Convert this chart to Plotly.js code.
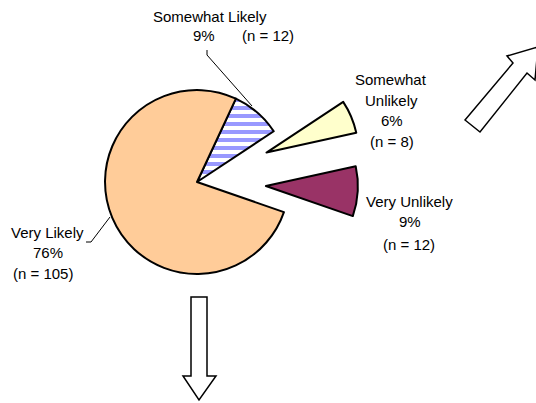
<!DOCTYPE html>
<html>
<head>
<meta charset="utf-8">
<script src="https://cdn.plot.ly/plotly-3.0.1.min.js"></script>
<style>html,body{margin:0;padding:0;background:#fff;}#chart{width:536px;height:403px;}</style>
</head>
<body>
<div id="chart"></div>
<script>
// Data
var categories = ["Somewhat Likely", "Somewhat Unlikely", "Very Unlikely", "Very Likely"];
var counts = [12, 8, 12, 105];
var percentLabels = ["9%", "6%", "9%", "76%"];
var nLabels = ["(n = 12)", "(n = 8)", "(n = 12)", "(n = 105)"];
var nameLines = [["Somewhat Likely"], ["Somewhat", "Unlikely"], ["Very Unlikely"], ["Very Likely"]];

// Styles
var sliceColors = ["#ffffff", "#ffffcc", "#993366", "#ffcc99"];
var pulls = [0, 0.82, 0.75, 0];

var font = {family: "Liberation Sans, Arial, sans-serif", size: 15, color: "#000"};

var pie = {
  type: "pie",
  values: counts,
  labels: categories,
  sort: false,
  direction: "clockwise",
  rotation: 25,
  pull: pulls,
  textinfo: "none",
  hoverinfo: "label+value+percent",
  showlegend: false,
  domain: {x: [0.0552, 0.6799], y: [0.133, 0.9638]},
  marker: {
    colors: sliceColors,
    line: {color: "#000", width: 2},
    pattern: {shape: ["-", "", "", ""], fgcolor: "#9999ff", bgcolor: "#ffffff", size: 8, solidity: 0.5}
  }
};

// Label placement (pixel coords)
var labelPos = [
  {x: 210, y: 16, pctX: 204, pctY: 35, nX: 268, nY: 35},
  {x: 391, y: 79, pctX: 392, pctY: 120, nX: 392, nY: 141},
  {x: 409, y: 201, pctX: 410, pctY: 221, nX: 409, nY: 244},
  {x: 47, y: 232, pctX: 48, pctY: 252, nX: 43, nY: 273}
];

var annotations = [];
for (var i = 0; i < categories.length; i++) {
  var p = labelPos[i];
  for (var j = 0; j < nameLines[i].length; j++) {
    annotations.push({x: p.x, y: p.y + j * 21, xref: "x", yref: "y", text: nameLines[i][j],
      showarrow: false, font: font, xanchor: "center", yanchor: "middle"});
  }
  annotations.push({x: p.pctX, y: p.pctY, xref: "x", yref: "y", text: percentLabels[i],
    showarrow: false, font: font, xanchor: "center", yanchor: "middle"});
  annotations.push({x: p.nX, y: p.nY, xref: "x", yref: "y", text: nLabels[i],
    showarrow: false, font: font, xanchor: "center", yanchor: "middle"});
}

var shapes = [
  // leader lines
  {type: "path", xref: "x", yref: "y", path: "M207,50 L207,55 L252,106", line: {color: "#000", width: 1}},
  {type: "path", xref: "x", yref: "y", path: "M86,242 L91,242 L110,217", line: {color: "#000", width: 1}},
  // down arrow
  {type: "path", xref: "x", yref: "y", path: "M191,297 L207,297 L207,376 L216,376 L199,400 L183,376 L191,376 Z",
    line: {color: "#000", width: 1.5}, fillcolor: "#fff"},
  // up-right arrow
  {type: "path", xref: "x", yref: "y", path: "M465,120 L513,63 L507,56 L538,47 L535,80 L527,73 L480,132 Z",
    line: {color: "#000", width: 1.5}, fillcolor: "#fff"}
];

var layout = {
  width: 536, height: 403,
  margin: {l: 0, r: 0, t: 0, b: 0},
  paper_bgcolor: "#fff", plot_bgcolor: "rgba(0,0,0,0)",
  xaxis: {range: [0, 536], visible: false, fixedrange: true},
  yaxis: {range: [403, 0], visible: false, fixedrange: true},
  showlegend: false,
  annotations: annotations,
  shapes: shapes
};

Plotly.newPlot("chart", [pie], layout, {staticPlot: true});
</script>
</body>
</html>
